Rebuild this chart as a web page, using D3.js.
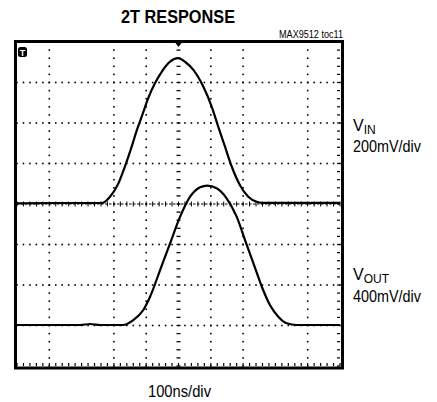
<!DOCTYPE html>
<html><head><meta charset="utf-8">
<script src="https://cdn.jsdelivr.net/npm/d3@7"></script>
<style>html,body{margin:0;padding:0;background:#fff}svg{display:block}</style>
</head><body>
<script>
// ---- data (time in ns, voltage in mV relative to each trace's baseline) ----
const title = "2T RESPONSE";
const tocLabel = "MAX9512 toc11";
const xLabel = "100ns/div";
const vinTime = [0,133,263,288,314,334,355,371,386,406,427,448,474,498,522,546,577,603,623,644,665,690,716,742,758,876,1000];
const vinMv   = [3,5,5,36,102,184,283,365,431,522,596,653,703,720,700,662,579,480,382,283,184,94,36,11,6,6,6];
const voutTime = [0,195,226,257,328,360,391,412,443,474,505,536,567,589,618,649,680,706,732,758,783,809,835,866,1000];
const voutMv   = [5,5,15,5,5,54,153,284,548,812,1075,1272,1365,1381,1355,1256,1075,844,614,383,202,87,22,5,5];
const vinScaleMvPerDiv = 200, voutScaleMvPerDiv = 400;
const vinOffsetDiv = 0, voutOffsetDiv = -3;
const gridDivsX = [1,3,4,6,7,9];      // visible vertical grid lines
const gridDivsY = [-3,-2,-1,1,2,3];   // visible horizontal grid lines
const timeDomain = [0,1000], divDomain = [-4,4];

// ---- drawing ----
const W = 437, H = 402;
const svg = d3.select("body").append("svg").attr("width", W).attr("height", H);
const x = d3.scaleLinear().domain(timeDomain).range([17, 340]);
const y = d3.scaleLinear().domain(divDomain).range([366, 42]);
const nsPerDiv = 100, minor = 5;
const xMinor = d3.range(timeDomain[0], timeDomain[1] + 0.001, nsPerDiv / minor);
const yMinor = d3.range(divDomain[0], divDomain[1] + 0.001, 1 / minor);

const g = svg.append("g");
gridDivsY.forEach(d => {
  g.selectAll(null).data(xMinor).enter().append("rect")
    .attr("x", t => x(t) - 0.8).attr("y", y(d) - 0.8).attr("width", 1.6).attr("height", 1.6).attr("fill", "#000");
});
gridDivsX.forEach(d => {
  g.selectAll(null).data(yMinor).enter().append("rect")
    .attr("x", x(d * nsPerDiv) - 0.8).attr("y", v => y(v) - 0.8).attr("width", 1.6).attr("height", 1.6).attr("fill", "#000");
});
g.append("line").attr("x1", x(0)).attr("x2", x(1000)).attr("y1", y(0)).attr("y2", y(0))
  .attr("stroke", "#000").attr("stroke-width", 1).attr("stroke-dasharray", "2.5 1.5");
g.selectAll(null).data(xMinor).enter().append("line")
  .attr("x1", t => x(t)).attr("x2", t => x(t)).attr("y1", y(0) - 2.5).attr("y2", y(0) + 2.5)
  .attr("stroke", "#000").attr("stroke-width", 1);
g.selectAll(null).data(yMinor).enter().append("line")
  .attr("x1", x(500) - 2).attr("x2", x(500) + 2).attr("y1", v => y(v)).attr("y2", v => y(v))
  .attr("stroke", "#000").attr("stroke-width", 1.3);
g.selectAll(null).data(xMinor).enter().append("line")
  .attr("x1", t => x(t)).attr("x2", t => x(t)).attr("y1", y(-4)).attr("y2", y(-4) - 3)
  .attr("stroke", "#000").attr("stroke-width", 1.2);
g.selectAll(null).data(yMinor).enter().append("line")
  .attr("x1", x(1000)).attr("x2", x(1000) - 3).attr("y1", v => y(v)).attr("y2", v => y(v))
  .attr("stroke", "#000").attr("stroke-width", 1.2);

svg.append("rect").attr("x", 15.5).attr("y", 41.5).attr("width", 327).attr("height", 326.5)
  .attr("fill", "none").attr("stroke", "#000").attr("stroke-width", 3);
svg.append("path").attr("d", `M${x(500)-3},43 L${x(500)+3},43 L${x(500)},47 Z`).attr("fill", "#000");
svg.append("rect").attr("x", 18).attr("y", 47).attr("width", 9).attr("height", 10).attr("rx", 2.5).attr("fill", "#000");
svg.append("text").attr("x", 22.5).attr("y", 55.5).attr("text-anchor", "middle")
  .attr("font-family", "Liberation Sans, Arial, sans-serif").attr("font-weight", "bold").attr("font-size", 9)
  .attr("fill", "#fff").text("T");

const line = d3.line().curve(d3.curveMonotoneX);
const vinPts = vinTime.map((t, i) => [x(t), y(vinMv[i] / vinScaleMvPerDiv + vinOffsetDiv)]);
const voutPts = voutTime.map((t, i) => [x(t), y(voutMv[i] / voutScaleMvPerDiv + voutOffsetDiv)]);
[vinPts, voutPts].forEach(p => {
  svg.append("path").attr("d", line(p)).attr("fill", "none").attr("stroke", "#000")
    .attr("stroke-width", 2.2).attr("stroke-linejoin", "round");
});

const narrow = "'Liberation Sans Narrow', 'Arial Narrow', 'Liberation Sans', Arial, sans-serif";
svg.append("text").attr("x", 178).attr("y", 23).attr("text-anchor", "middle")
  .attr("font-family", narrow).attr("font-weight", "bold").attr("font-size", 19)
  .attr("textLength", 114).attr("lengthAdjust", "spacingAndGlyphs").text(title);
svg.append("text").attr("x", 279).attr("y", 37.5)
  .attr("font-family", narrow).attr("font-size", 10)
  .attr("textLength", 64).attr("lengthAdjust", "spacingAndGlyphs").text(tocLabel);

function label(yV, yS, sub, scaleText) {
  const t = svg.append("text").attr("x", 353).attr("y", yV).attr("font-family", narrow).attr("font-size", 16);
  t.append("tspan").text("V");
  t.append("tspan").attr("dy", 2.5).attr("font-size", 12).text(sub);
  svg.append("text").attr("x", 353).attr("y", yS).attr("font-family", narrow).attr("font-size", 16)
    .attr("textLength", 68).attr("lengthAdjust", "spacingAndGlyphs").text(scaleText);
}
label(131, 151.5, "IN", vinScaleMvPerDiv + "mV/div");
label(280, 301.5, "OUT", voutScaleMvPerDiv + "mV/div");

svg.append("text").attr("x", 148).attr("y", 396.5)
  .attr("font-family", narrow).attr("font-size", 16)
  .attr("textLength", 63).attr("lengthAdjust", "spacingAndGlyphs").text(xLabel);
</script>
</body></html>
